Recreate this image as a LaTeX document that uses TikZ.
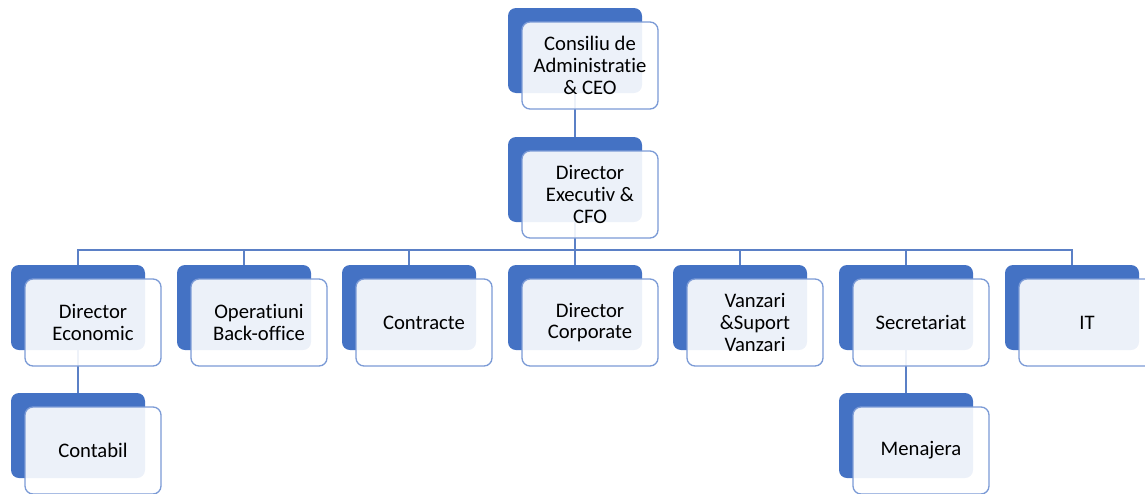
\documentclass[tikz,border=0pt]{standalone}
\usepackage{fontspec}
\setmainfont{Carlito}[Ligatures={NoCommon,NoRare,NoDiscretionary}]
\definecolor{unitblue}{HTML}{4472C4}
\definecolor{unitedge}{HTML}{7C9BD6}
\definecolor{linkblue}{HTML}{5B80C6}

\begin{document}
\begin{tikzpicture}[x=0.75pt,y=-0.75pt,
    back/.style={fill=unitblue,rounded corners=6pt,minimum width=100.5pt,minimum height=63.75pt,inner sep=0pt,outer sep=0pt},
    front/.style={draw=unitedge,line width=1pt,fill=white,fill opacity=0.9,text opacity=1,rounded corners=6pt,
        minimum width=102pt,minimum height=65.25pt,inner sep=0pt,outer sep=0pt,align=center,
        font=\fontsize{15.5}{16.3}\selectfont},
    link/.style={draw=linkblue,line width=0.8pt}]
                \useasboundingbox (0,0) rectangle (1145,493);
                % blue tiles behind each box
                \node[back] (ceo) at (575,50.5) {};
                \node[back] (cfo) at (575,179.5) {};
                \node[back] (eco) at (78,307.5) {};
                \node[back] (ops) at (244,307.5) {};
                \node[back] (con) at (409,307.5) {};
                \node[back] (corp) at (575,307.5) {};
                \node[back] (sales) at (740,307.5) {};
                \node[back] (secr) at (906,307.5) {};
                \node[back] (it) at (1072,307.5) {};
                \node[back] (acc) at (78,435.5) {};
                \node[back] (men) at (906,435.5) {};
                % links
                \draw[link] (ceo.south) -- (cfo.north);
                \foreach \n in {eco,ops,con,corp,sales,secr,it}
                    \draw[link] (cfo.south) -- ++(0,28) -| (\n.north);
                \draw[link] (eco.south) -- (acc.north);
                \draw[link] (secr.south) -- (men.north);
                % text boxes
                \node[front] (ceo-f) at (590,65.5) {Consiliu de\\Administratie\\\& CEO};
                \node[front] (cfo-f) at (590,194.5) {Director\\Executiv \&\\CFO};
                \node[front] (eco-f) at (93,322.5) {Director\\Economic};
                \node[front] (ops-f) at (259,322.5) {Operatiuni\\Back-office};
                \node[front] (con-f) at (424,322.5) {Contracte};
                \node[front] (corp-f) at (590,322.5) {Director\\Corporate};
                \node[front] (sales-f) at (755,322.5) {Vanzari\\\&Suport\\Vanzari};
                \node[front] (secr-f) at (921,322.5) {Secretariat};
                \node[front] (it-f) at (1087,322.5) {IT};
                \node[front] (acc-f) at (93,450.5) {Contabil};
                \node[front] (men-f) at (921,450.5) {Menajera};
\end{tikzpicture}
\end{document}
